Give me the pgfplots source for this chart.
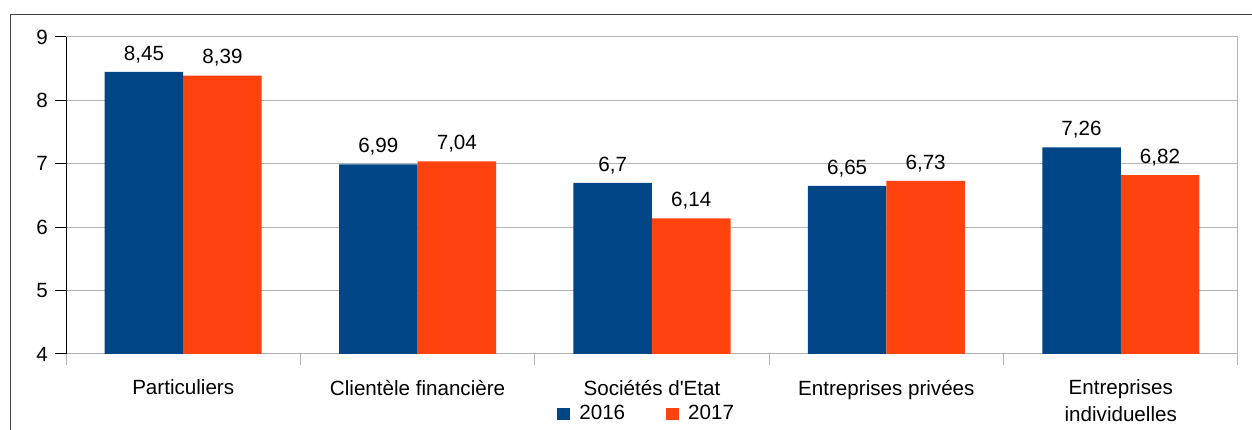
\documentclass[border=0pt]{standalone}
\usepackage{pgfplots}
\pgfplotsset{compat=1.18}
\usepackage{fontspec}
\setmainfont{Liberation Sans}
\definecolor{c2016}{HTML}{004586}
\definecolor{c2017}{HTML}{FF420E}
\definecolor{gridgray}{HTML}{B3B3B3}
\begin{document}
\fontsize{20.6}{27}\selectfont
\begin{tikzpicture}
\useasboundingbox (0pt,0pt) rectangle (1252pt,430pt);
% outer frame (top and left only visible)
\draw[black!75, line width=1pt] (10.5pt,0pt) -- (10.5pt,415.7pt) -- (1252pt,415.7pt);
\begin{axis}[
    at={(66pt,76pt)}, anchor=south west,
    scale only axis, width=1172pt, height=317pt,
    xmin=-0.5, xmax=4.5, ymin=4, ymax=9,
    ytick={4,...,9},
    xtick={-0.5,0.5,...,4.5}, xticklabels={},
    extra x ticks={0,1,2,3,4},
    extra x tick labels={Particuliers, Clientèle financière, Sociétés d\textquotesingle Etat, Entreprises privées, {Entreprises\\individuelles}},
    extra x tick style={major tick length=0pt},
    xticklabel style={align=center, anchor=north, yshift=-19pt},
    tick align=outside, major tick length=11pt,
    xtick style={gridgray, line width=1pt},
    ytick style={black, line width=1pt},
    axis x line*=bottom, axis y line*=left,
    x axis line style={-, gridgray, line width=1pt},
    y axis line style={-, black, line width=1pt},
    ymajorgrids, grid style={gridgray, line width=1pt},
    ybar=0pt, bar width=0.335,
    nodes near coords={\pgfmathprintnumber{\pgfplotspointmeta}},
    every node near coord/.append style={yshift=2pt},
    /pgf/number format/use comma,
    /pgf/number format/assume math mode=true,
    legend style={at={(0.4955,-0.19)}, anchor=center, draw=none, fill=none,
        legend columns=2,
        /tikz/every odd column/.append style={column sep=7pt},
        /tikz/every even column/.append style={column sep=39pt}},
    legend image code/.code={\fill[#1] (0pt,-6pt) rectangle (13pt,6pt);},
]
\addplot[fill=c2016, draw=none] coordinates {(0,8.45) (1,6.99) (2,6.7) (3,6.65) (4,7.26)};
\addplot[fill=c2017, draw=none] coordinates {(0,8.39) (1,7.04) (2,6.14) (3,6.73) (4,6.82)};
\legend{2016, 2017}
\draw[gridgray, line width=1pt] (rel axis cs:1,0) -- (rel axis cs:1,1);
\end{axis}
\end{tikzpicture}
\end{document}
